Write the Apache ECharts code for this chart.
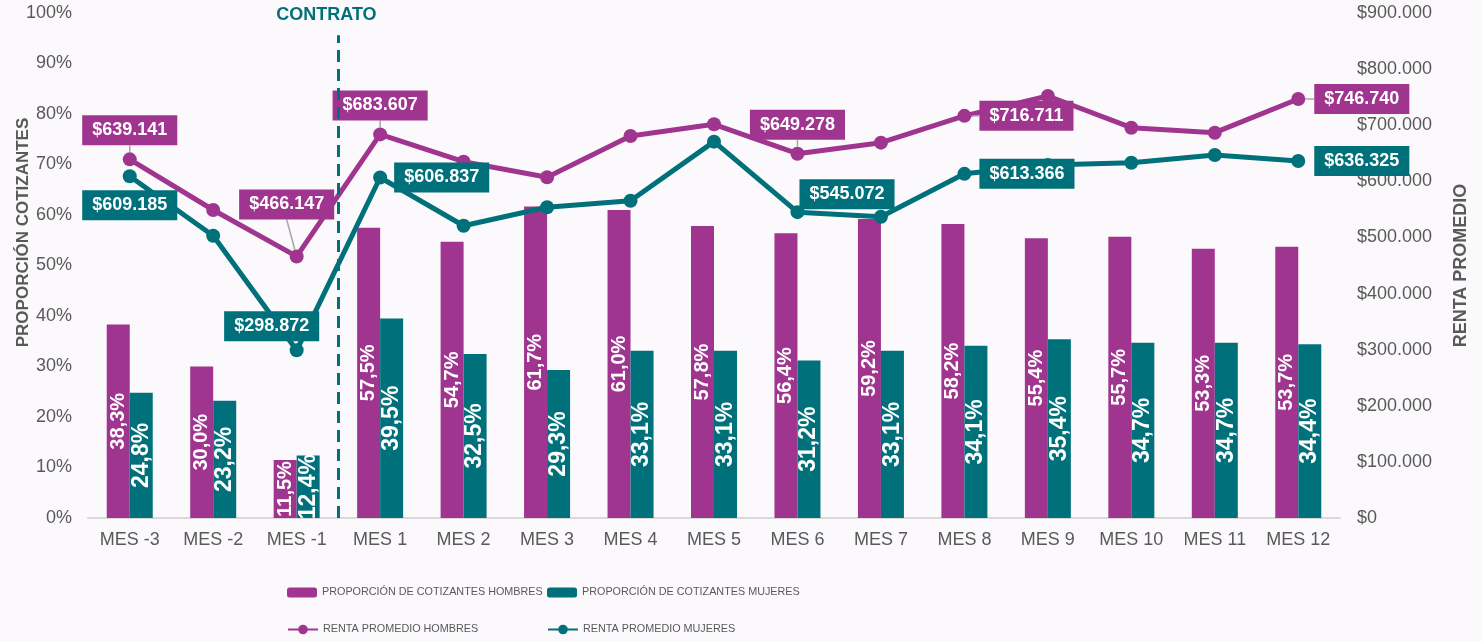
<!DOCTYPE html>
<html>
<head>
<meta charset="utf-8">
<script src="https://cdn.jsdelivr.net/npm/echarts@6/dist/echarts.min.js"></script>
<style>
  html, body { margin: 0; padding: 0; background: #fbf9fc; }
  #chart { width: 1482px; height: 641px; }
</style>
</head>
<body>
<div id="chart"></div>
<script>
const meses = ['MES -3', 'MES -2', 'MES -1', 'MES 1', 'MES 2', 'MES 3', 'MES 4', 'MES 5', 'MES 6', 'MES 7', 'MES 8', 'MES 9', 'MES 10', 'MES 11', 'MES 12'];
const propHombres = [38.3, 30.0, 11.5, 57.5, 54.7, 61.7, 61.0, 57.8, 56.4, 59.2, 58.2, 55.4, 55.7, 53.3, 53.7];
const propMujeres = [24.8, 23.2, 12.4, 39.5, 32.5, 29.3, 33.1, 33.1, 31.2, 33.1, 34.1, 35.4, 34.7, 34.7, 34.4];
const rentaHombres = [639141, 548900, 466147, 683607, 635000, 607200, 680800, 701600, 649278, 668900, 716711, 752100, 695600, 686700, 746740];
const rentaMujeres = [609185, 503100, 298872, 606837, 520900, 553700, 565500, 670700, 545072, 537000, 613366, 629100, 633200, 646900, 636325];
const contratoEntre = 2.5; // entre MES -1 y MES 1

const MORADO = '#a0358f';
const VERDE = '#00717a';
const GRIS = '#595959';

const fmtPeso = (n) => '$' + String(Math.round(n)).replace(/\B(?=(\d{3})+(?!\d))/g, '.');
const fmtPct = (v) => v.toFixed(1).replace('.', ',') + '%';

// which points get a value box, and where
const etiquetasHombres = {
  0: { position: 'top', distance: 7 },
  2: { position: 'top', distance: 5 },
  3: { position: 'top', distance: 7 },
  8: { position: 'top', distance: 7 },
  10: { position: 'right', distance: 8 },
  14: { position: 'right', distance: 9 },
};
const etiquetasMujeres = {
  0: { position: 'bottom', distance: 7 },
  2: { position: 'top', distance: 2, offset: [-25, 0] },
  3: { position: 'right', distance: 7 },
  8: { position: 'right', distance: -5, offset: [0, -18] },
  10: { position: 'right', distance: 8 },
  14: { position: 'right', distance: 9 },
};

function datosLinea(valores, etiquetas, color) {
  return valores.map((v, i) => {
    const e = etiquetas[i];
    if (!e) return v;
    return {
      value: v,
      label: {
        show: true,
        formatter: (p) => fmtPeso(p.value),
        color: '#fff',
        fontWeight: 'bold',
        fontSize: 18,
        lineHeight: 18,
        backgroundColor: color,
        padding: [6, 10],
        ...e,
      },
    };
  });
}

const chart = echarts.init(document.getElementById('chart'));

const legendBase = {
  padding: 0,
  itemWidth: 30,
  itemHeight: 10,
  textStyle: { color: GRIS, fontSize: 10.8 },
};

const option = {
  backgroundColor: '#fbf9fc',
  textStyle: { fontFamily: 'Liberation Sans, Arial, sans-serif' },
  animation: false,
  grid: { left: 88, right: 142, top: 13, bottom: 123, outerBoundsMode: 'none' },
  legend: [
    { ...legendBase, data: ['PROPORCIÓN DE COTIZANTES HOMBRES'], left: 287, top: 587 },
    { ...legendBase, data: ['PROPORCIÓN DE COTIZANTES MUJERES'], left: 547, top: 587 },
    { ...legendBase, itemHeight: 12, data: ['RENTA PROMEDIO HOMBRES'], left: 287, top: 624 },
    { ...legendBase, itemHeight: 12, data: ['RENTA PROMEDIO MUJERES'], left: 547, top: 624 },
  ],
  xAxis: [
    {
      type: 'category',
      data: meses,
      axisLine: { lineStyle: { color: '#d9d9d9', width: 2 } },
      axisTick: { show: false },
      axisLabel: { color: GRIS, fontSize: 18, margin: 13, interval: 0 },
    },
    { type: 'value', min: -0.5, max: meses.length - 0.5, show: false },
  ],
  yAxis: [
    {
      type: 'value',
      min: 0,
      max: 100,
      interval: 10,
      name: 'PROPORCIÓN COTIZANTES',
      nameLocation: 'middle',
      nameGap: 56,
      nameMoveOverlap: false,
      nameRotate: 90,
      nameTextStyle: { color: GRIS, fontWeight: 'bold', fontSize: 17, padding: [0, 0, 0, 66] },
      axisLabel: { color: GRIS, fontSize: 18, margin: 16, formatter: '{value}%' },
      axisLine: { show: false },
      axisTick: { show: false },
      splitLine: { show: false },
    },
    {
      type: 'value',
      min: 0,
      max: 900000,
      interval: 100000,
      name: 'RENTA PROMEDIO',
      nameLocation: 'middle',
      nameGap: 112,
      nameMoveOverlap: false,
      nameRotate: 90,
      nameTextStyle: { color: GRIS, fontWeight: 'bold', fontSize: 18 },
      axisLabel: { color: GRIS, fontSize: 18, margin: 17, formatter: fmtPeso },
      axisLine: { show: false },
      axisTick: { show: false },
      splitLine: { show: false },
    },
  ],
  series: [
    {
      name: 'PROPORCIÓN DE COTIZANTES HOMBRES',
      type: 'bar',
      data: propHombres,
      barWidth: 23,
      barGap: '0%',
      itemStyle: { color: MORADO },
      label: {
        show: true,
        position: 'inside',
        rotate: 90,
        color: '#fff',
        fontWeight: 'bold',
        fontSize: 20,
        formatter: (p) => fmtPct(p.value),
      },
    },
    {
      name: 'PROPORCIÓN DE COTIZANTES MUJERES',
      type: 'bar',
      data: propMujeres,
      barWidth: 23,
      barGap: '0%',
      itemStyle: { color: VERDE },
      label: {
        show: true,
        position: 'inside',
        rotate: 90,
        color: '#fff',
        fontWeight: 'bold',
        fontSize: 23,
        formatter: (p) => fmtPct(p.value),
      },
    },
    {
      name: 'RENTA PROMEDIO HOMBRES',
      type: 'line',
      yAxisIndex: 1,
      data: datosLinea(rentaHombres, etiquetasHombres, MORADO),
      symbol: 'circle',
      symbolSize: 14,
      lineStyle: { color: MORADO, width: 5 },
      itemStyle: { color: MORADO },
      labelLine: { show: true, lineStyle: { color: '#a6a6a6', width: 1.5 } },
      labelLayout: (p) => (p.dataIndex === 2 ? { dx: -10, dy: -25 } : {}),
      z: 3,
    },
    {
      name: 'RENTA PROMEDIO MUJERES',
      type: 'line',
      yAxisIndex: 1,
      data: datosLinea(rentaMujeres, etiquetasMujeres, VERDE),
      symbol: 'circle',
      symbolSize: 14,
      lineStyle: { color: VERDE, width: 5 },
      itemStyle: { color: VERDE },
      z: 3,
    },
    {
      name: 'contrato',
      type: 'line',
      xAxisIndex: 1,
      yAxisIndex: 0,
      data: [],
      markLine: {
        silent: true,
        symbol: ['none', 'none'],
        lineStyle: { color: VERDE, width: 3, type: [12, 7] },
        label: {
          show: true,
          position: 'end',
          distance: 11,
          formatter: 'CONTRATO',
          color: VERDE,
          fontWeight: 'bold',
          fontSize: 18,
          padding: [0, 24, 0, 0],
        },
        data: [[{ coord: [contratoEntre, 0] }, { coord: [contratoEntre, 95.6] }]],
      },
    },
  ],
};

chart.setOption(option);
</script>
</body>
</html>
